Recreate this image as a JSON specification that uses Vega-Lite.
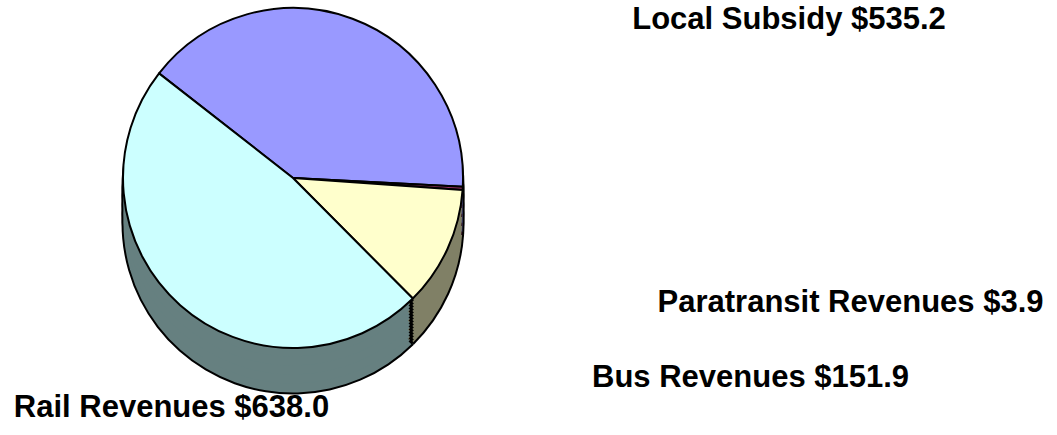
{
  "$schema": "https://vega.github.io/schema/vega-lite/v6.json",
  "width": 586,
  "height": 356,
  "autosize": {"type": "none"},
  "padding": {"left": 0, "top": 0, "right": 471, "bottom": 79},
  "background": "#ffffff",
  "config": {"view": {"stroke": null}},
  "datasets": {
    "budget": [
      {"slice": 1, "category": "Local Subsidy", "value": 535.2, "label": "Local Subsidy $535.2"},
      {"slice": 2, "category": "Paratransit Revenues", "value": 3.9, "label": "Paratransit Revenues $3.9"},
      {"slice": 3, "category": "Bus Revenues", "value": 151.9, "label": "Bus Revenues $151.9"},
      {"slice": 4, "category": "Rail Revenues", "value": 638.0, "label": "Rail Revenues $638.0"}
    ]
  },
  "data": {"name": "budget"},
  "resolve": {"scale": {"theta": "independent", "radius": "independent"}},
  "layer": [
    {"mark": {"type": "arc", "radius": 171.5, "fill": "#000000", "yOffset": 45},
     "encoding": {"theta": {"field": "value", "type": "quantitative", "stack": true, "scale": {"range": [-0.9076, 5.3756], "nice": false, "zero": true}}, "order": {"field": "slice", "type": "quantitative", "sort": "ascending"}}},
    {"mark": {"type": "arc", "radius": 171.5, "fill": "#000000", "yOffset": 36},
     "encoding": {"theta": {"field": "value", "type": "quantitative", "stack": true, "scale": {"range": [-0.9076, 5.3756], "nice": false, "zero": true}}, "order": {"field": "slice", "type": "quantitative", "sort": "ascending"}}},
    {"mark": {"type": "arc", "radius": 171.5, "fill": "#000000", "yOffset": 27},
     "encoding": {"theta": {"field": "value", "type": "quantitative", "stack": true, "scale": {"range": [-0.9076, 5.3756], "nice": false, "zero": true}}, "order": {"field": "slice", "type": "quantitative", "sort": "ascending"}}},
    {"mark": {"type": "arc", "radius": 171.5, "fill": "#000000", "yOffset": 18},
     "encoding": {"theta": {"field": "value", "type": "quantitative", "stack": true, "scale": {"range": [-0.9076, 5.3756], "nice": false, "zero": true}}, "order": {"field": "slice", "type": "quantitative", "sort": "ascending"}}},
    {"mark": {"type": "arc", "radius": 171.5, "fill": "#000000", "yOffset": 9},
     "encoding": {"theta": {"field": "value", "type": "quantitative", "stack": true, "scale": {"range": [-0.9076, 5.3756], "nice": false, "zero": true}}, "order": {"field": "slice", "type": "quantitative", "sort": "ascending"}}},
    {"mark": {"type": "arc", "radius": 169.5, "yOffset": 45},
     "encoding": {"theta": {"field": "value", "type": "quantitative", "stack": true, "scale": {"range": [-0.9076, 5.3756], "nice": false, "zero": true}}, "order": {"field": "slice", "type": "quantitative", "sort": "ascending"},
       "fill": {"field": "category", "type": "nominal", "legend": null, "scale": {"domain": ["Local Subsidy", "Paratransit Revenues", "Bus Revenues", "Rail Revenues"], "range": ["#4d4d80", "#33111f", "#808066", "#668080"]}}}},
    {"mark": {"type": "arc", "radius": 169.5, "yOffset": 36},
     "encoding": {"theta": {"field": "value", "type": "quantitative", "stack": true, "scale": {"range": [-0.9076, 5.3756], "nice": false, "zero": true}}, "order": {"field": "slice", "type": "quantitative", "sort": "ascending"},
       "fill": {"field": "category", "type": "nominal", "legend": null, "scale": {"domain": ["Local Subsidy", "Paratransit Revenues", "Bus Revenues", "Rail Revenues"], "range": ["#4d4d80", "#33111f", "#808066", "#668080"]}}}},
    {"mark": {"type": "arc", "radius": 169.5, "yOffset": 27},
     "encoding": {"theta": {"field": "value", "type": "quantitative", "stack": true, "scale": {"range": [-0.9076, 5.3756], "nice": false, "zero": true}}, "order": {"field": "slice", "type": "quantitative", "sort": "ascending"},
       "fill": {"field": "category", "type": "nominal", "legend": null, "scale": {"domain": ["Local Subsidy", "Paratransit Revenues", "Bus Revenues", "Rail Revenues"], "range": ["#4d4d80", "#33111f", "#808066", "#668080"]}}}},
    {"mark": {"type": "arc", "radius": 169.5, "yOffset": 18},
     "encoding": {"theta": {"field": "value", "type": "quantitative", "stack": true, "scale": {"range": [-0.9076, 5.3756], "nice": false, "zero": true}}, "order": {"field": "slice", "type": "quantitative", "sort": "ascending"},
       "fill": {"field": "category", "type": "nominal", "legend": null, "scale": {"domain": ["Local Subsidy", "Paratransit Revenues", "Bus Revenues", "Rail Revenues"], "range": ["#4d4d80", "#33111f", "#808066", "#668080"]}}}},
    {"mark": {"type": "arc", "radius": 169.5, "yOffset": 9},
     "encoding": {"theta": {"field": "value", "type": "quantitative", "stack": true, "scale": {"range": [-0.9076, 5.3756], "nice": false, "zero": true}}, "order": {"field": "slice", "type": "quantitative", "sort": "ascending"},
       "fill": {"field": "category", "type": "nominal", "legend": null, "scale": {"domain": ["Local Subsidy", "Paratransit Revenues", "Bus Revenues", "Rail Revenues"], "range": ["#4d4d80", "#33111f", "#808066", "#668080"]}}}},
    {"transform": [{"stack": "value", "groupby": [], "sort": [{"field": "slice", "order": "ascending"}], "as": ["v0", "v1"]}, {"filter": {"field": "slice", "equal": 3}}],
     "layer": [
       {"mark": {"type": "arc", "filled": false, "radius": 170, "stroke": "#000000", "strokeWidth": 3, "strokeDash": [0, 122.08, 4.5, 3000], "yOffset": 45}},
       {"mark": {"type": "arc", "filled": false, "radius": 170, "stroke": "#000000", "strokeWidth": 3, "strokeDash": [0, 122.08, 4.5, 3000], "yOffset": 42}},
       {"mark": {"type": "arc", "filled": false, "radius": 170, "stroke": "#000000", "strokeWidth": 3, "strokeDash": [0, 122.08, 4.5, 3000], "yOffset": 39}},
       {"mark": {"type": "arc", "filled": false, "radius": 170, "stroke": "#000000", "strokeWidth": 3, "strokeDash": [0, 122.08, 4.5, 3000], "yOffset": 36}},
       {"mark": {"type": "arc", "filled": false, "radius": 170, "stroke": "#000000", "strokeWidth": 3, "strokeDash": [0, 122.08, 4.5, 3000], "yOffset": 33}},
       {"mark": {"type": "arc", "filled": false, "radius": 170, "stroke": "#000000", "strokeWidth": 3, "strokeDash": [0, 122.08, 4.5, 3000], "yOffset": 30}},
       {"mark": {"type": "arc", "filled": false, "radius": 170, "stroke": "#000000", "strokeWidth": 3, "strokeDash": [0, 122.08, 4.5, 3000], "yOffset": 27}},
       {"mark": {"type": "arc", "filled": false, "radius": 170, "stroke": "#000000", "strokeWidth": 3, "strokeDash": [0, 122.08, 4.5, 3000], "yOffset": 24}},
       {"mark": {"type": "arc", "filled": false, "radius": 170, "stroke": "#000000", "strokeWidth": 3, "strokeDash": [0, 122.08, 4.5, 3000], "yOffset": 21}},
       {"mark": {"type": "arc", "filled": false, "radius": 170, "stroke": "#000000", "strokeWidth": 3, "strokeDash": [0, 122.08, 4.5, 3000], "yOffset": 18}},
       {"mark": {"type": "arc", "filled": false, "radius": 170, "stroke": "#000000", "strokeWidth": 3, "strokeDash": [0, 122.08, 4.5, 3000], "yOffset": 15}},
       {"mark": {"type": "arc", "filled": false, "radius": 170, "stroke": "#000000", "strokeWidth": 3, "strokeDash": [0, 122.08, 4.5, 3000], "yOffset": 12}},
       {"mark": {"type": "arc", "filled": false, "radius": 170, "stroke": "#000000", "strokeWidth": 3, "strokeDash": [0, 122.08, 4.5, 3000], "yOffset": 9}},
       {"mark": {"type": "arc", "filled": false, "radius": 170, "stroke": "#000000", "strokeWidth": 3, "strokeDash": [0, 122.08, 4.5, 3000], "yOffset": 6}},
       {"mark": {"type": "arc", "filled": false, "radius": 170, "stroke": "#000000", "strokeWidth": 3, "strokeDash": [0, 122.08, 4.5, 3000], "yOffset": 3}}
     ],
     "encoding": {
       "theta": {"field": "v0", "type": "quantitative", "scale": {"domain": [0, 1329], "range": [-0.9076, 5.3756], "nice": false, "zero": true}},
       "theta2": {"field": "v1"}
     }},
    {"mark": {"type": "arc", "radius": 170, "stroke": "#000000", "strokeWidth": 2, "strokeJoin": "round"},
     "encoding": {"theta": {"field": "value", "type": "quantitative", "stack": true, "scale": {"range": [-0.9076, 5.3756], "nice": false, "zero": true}}, "order": {"field": "slice", "type": "quantitative", "sort": "ascending"},
       "color": {"field": "category", "type": "nominal", "legend": null, "scale": {"domain": ["Local Subsidy", "Paratransit Revenues", "Bus Revenues", "Rail Revenues"], "range": ["#9999ff", "#993366", "#ffffcc", "#ccffff"]}}}},
    {"mark": {"type": "text", "font": "Liberation Sans", "fontWeight": "bold", "fontSize": 31, "align": "center", "baseline": "alphabetic", "fill": "#000000"},
     "encoding": {
       "theta": {"field": "value", "type": "quantitative", "scale": {"type": "linear", "domain": [3.9, 151.9, 535.2, 638.0], "range": [1.8066, 1.9993, 1.2790, 3.6120], "nice": false, "zero": false}},
       "radius": {"field": "value", "type": "quantitative", "scale": {"type": "linear", "domain": [3.9, 151.9, 535.2, 638.0], "range": [573.4, 503.0, 517.9, 268.1], "nice": false, "zero": false}},
       "text": {"field": "label", "type": "nominal"}}}
  ]
}
